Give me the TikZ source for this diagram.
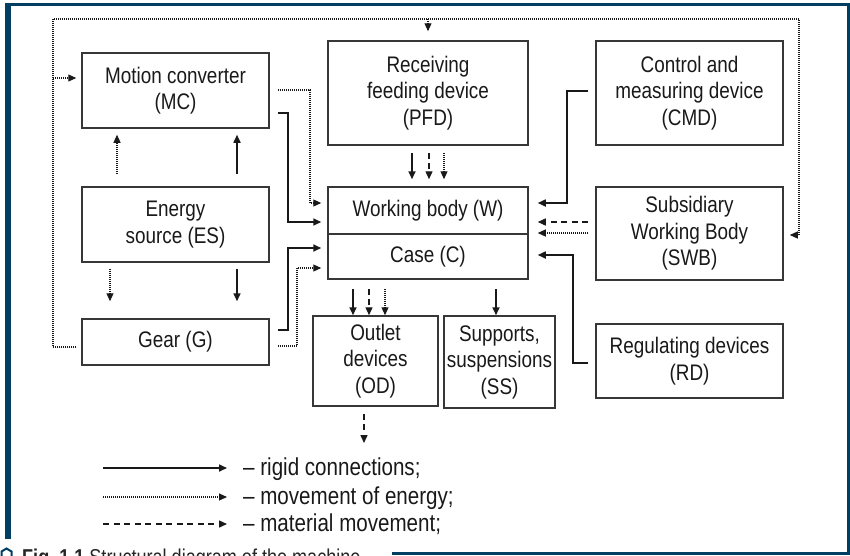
\documentclass[tikz,border=0pt]{standalone}
\usepackage{fontspec}
\setmainfont{Liberation Sans}[FakeStretch=0.84]
\usetikzlibrary{arrows.meta}
\definecolor{frameblue}{RGB}{0,62,98}
\definecolor{boxgray}{RGB}{55,55,55}
\definecolor{linegray}{RGB}{25,25,25}
\tikzset{
  blk/.style={draw=boxgray, line width=1.5pt, align=center, inner sep=0pt,
    text=black!90, font=\fontsize{22.5}{26.5}\selectfont},
  arr/.style={-{Triangle[length=8pt,width=7pt]}, draw=linegray},
  rig/.style={arr, line width=1.6pt},
  nrg/.style={arr, line width=1.1pt, dash pattern=on 1pt off 1pt},
  mat/.style={arr, line width=1.4pt, dash pattern=on 6pt off 4.5pt},
  gap/.style={shorten <=8pt, shorten >=6pt},
  legtext/.style={anchor=base west, inner sep=0pt, text=black!90,
    font=\fontsize{24.5}{28}\selectfont}
}
\begin{document}
\begin{tikzpicture}[x=1pt,y=-1pt]
  \useasboundingbox (0,0) rectangle (850,555);
  \begin{scope}
    \clip (0,0) rectangle (850,555);
    % frame
    \fill[frameblue] (5,3) rectangle (850,5.5);
    \fill[frameblue] (5,3) rectangle (10.5,539);
    \fill[frameblue] (846.5,3) rectangle (850,555);
    \fill[frameblue] (392,551.5) rectangle (850,555);
    \draw[frameblue, line width=2pt] (1.5,557) -- (1.5,551.5) -- (6.5,548.5) -- (11.5,551.5) -- (11.5,557);
    \node[anchor=base west, inner sep=0pt, text=black!85,
      font=\fontsize{21.5}{24}\selectfont] (cap) at (22,564)
      {\textbf{Fig.~1.1} Structural diagram of the machine};
  \end{scope}

  % blocks
  \node[blk, minimum width=187pt, minimum height=75pt] (mc) at (175.5,90.5) {Motion converter\\(MC)};
  \node[blk, minimum width=187pt, minimum height=75pt] (es) at (175.5,224.5) {Energy\\source (ES)};
  \node[blk, minimum width=187pt, minimum height=46pt] (gear) at (175.5,342) {Gear (G)};
  \node[blk, minimum width=200pt, minimum height=104pt] (pfd) at (428,93) {Receiving\\feeding device\\(PFD)};
  \node[blk, minimum width=187pt, minimum height=104pt] (cmd) at (689.5,93) {Control and\\measuring device\\(CMD)};
  \node[blk, minimum width=200pt, minimum height=47pt] (wb) at (428,210.5) {Working body (W)};
  \node[blk, minimum width=200pt, minimum height=45pt] (cs) at (428,256.5) {Case (C)};
  \node[blk, minimum width=187pt, minimum height=93pt] (swb) at (689.5,233.5) {Subsidiary\\Working Body\\(SWB)};
  \node[blk, minimum width=187pt, minimum height=74pt] (rd) at (689.5,361) {Regulating devices\\(RD)};
  \node[blk, minimum width=125pt, minimum height=90pt] (od) at (375.5,361) {Outlet\\devices\\(OD)};
  \node[blk, minimum width=111pt, minimum height=92pt] (ss) at (499.5,362) {Supports,\\suspensions\\(SS)};

  % energy loop round the machine
  \coordinate (lpL) at (53,19);
  \coordinate (lpR) at (799,19);
  \draw[nrg, shorten <=5pt, shorten >=6pt] (gear.west |- 0,347) -| (lpL) -- (lpR) |- (swb.east |- 0,235);
  \draw[nrg, shorten >=5pt] (lpL |- 0,78) -- (mc.west |- 0,78);
  \draw[nrg, shorten >=9pt] (pfd.north |- lpL) -- (pfd.north);

  % left side to the working body and the case
  \draw[nrg, gap] (mc.east |- 0,90) -| (310,203) -- (wb.west |- 0,203);
  \draw[rig, gap] (mc.east |- 0,113) -| (288,222) -- (wb.west |- 0,222);
  \draw[rig, gap] (gear.east |- 0,330) -| (288,248) -- (cs.west |- 0,248);
  \draw[nrg, gap] (gear.east |- 0,346) -| (297,268) -- (cs.west |- 0,268);

  % energy source
  \draw[nrg, shorten <=12pt, shorten >=6pt] (es.north -| 117,0) -- (mc.south -| 117,0);
  \draw[rig, shorten <=12pt, shorten >=6pt] (es.north -| 237,0) -- (mc.south -| 237,0);
  \draw[nrg, shorten <=6pt, shorten >=17pt] (es.south -| 110,0) -- (gear.north -| 110,0);
  \draw[rig, shorten <=6pt, shorten >=17pt] (es.south -| 237,0) -- (gear.north -| 237,0);

  % feeding device
  \draw[rig, shorten <=7pt, shorten >=7pt] (pfd.south -| 412,0) -- (wb.north -| 412,0);
  \draw[mat, shorten <=7pt, shorten >=7pt] (pfd.south -| 429,0) -- (wb.north -| 429,0);
  \draw[nrg, shorten <=7pt, shorten >=7pt] (pfd.south -| 444,0) -- (wb.north -| 444,0);

  % right side
  \draw[rig, shorten <=7pt, shorten >=9pt] (cmd.west |- 0,91) -| (567,203) -- (wb.east |- 0,203);
  \draw[mat, shorten <=7pt, shorten >=9pt] (swb.west |- 0,222) -- (wb.east |- 0,222);
  \draw[nrg, shorten <=7pt, shorten >=9pt] (swb.west |- 0,233) -- (wb.east |- 0,233);
  \draw[rig, shorten <=7pt, shorten >=9pt] (rd.west |- 0,363) -| (573,255) -- (cs.east |- 0,255);

  % outputs of the case
  \draw[rig, shorten <=9pt] (cs.south -| 353,0) -- (od.north -| 353,0);
  \draw[mat, shorten <=9pt] (cs.south -| 369,0) -- (od.north -| 369,0);
  \draw[nrg, shorten <=9pt] (cs.south -| 385,0) -- (od.north -| 385,0);
  \draw[rig, shorten <=9pt] (cs.south -| 496,0) -- (ss.north -| 496,0);
  \coordinate (odout) at (364,443);
  \draw[mat, shorten <=7pt] (od.south -| odout) -- (odout);

  % legend
  \coordinate (lg1a) at (103,468); \coordinate (lg1b) at (227,468);
  \coordinate (lg2a) at (103,497); \coordinate (lg2b) at (227,497);
  \coordinate (lg3a) at (103,524); \coordinate (lg3b) at (227,524);
  \draw[rig] (lg1a) -- (lg1b);
  \draw[nrg] (lg2a) -- (lg2b);
  \draw[mat] (lg3a) -- (lg3b);
  \node[legtext] (lg1) at (243,475) {\textendash{} rigid connections;};
  \node[legtext] (lg2) at (243,504) {\textendash{} movement of energy;};
  \node[legtext] (lg3) at (243,531) {\textendash{} material movement;};
\end{tikzpicture}
\end{document}
